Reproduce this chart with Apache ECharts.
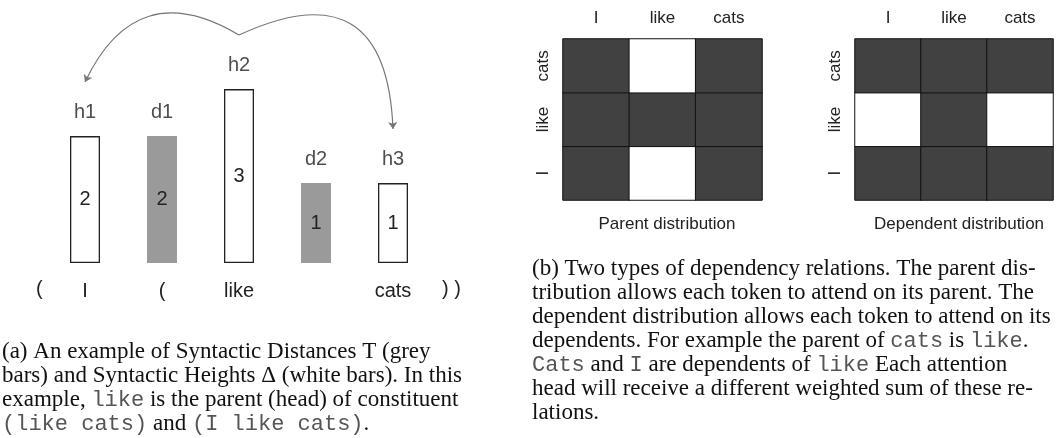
<!DOCTYPE html>
<html>
<head>
<meta charset="utf-8">
<script src="https://cdn.jsdelivr.net/npm/echarts@6/dist/echarts.min.js"></script>
<style>
  html, body { margin: 0; padding: 0; background: #fff; }
  #chart { width: 1063px; height: 438px; }
</style>
</head>
<body>
<div id="chart"></div>
<script>
// panel (a): syntactic distances / heights
const barTokens = ['I', '(', 'like', '', 'cats'];
const barNames = ['h1', 'd1', 'h2', 'd2', 'h3'];
const barValues = [2, 2, 3, 1, 1];
const barKinds = ['height', 'distance', 'height', 'distance', 'height'];
// head -> dependent (indices into barNames)
const arcs = [[2, 0], [2, 4]];

// panel (b): attention patterns, rows bottom->top = I, like, cats
const tokens = ['I', 'like', 'cats'];
const parentRows = [
  [0, 1, 0],
  [0, 0, 0],
  [0, 1, 0]
];
const dependentRows = [
  [0, 0, 0],
  [1, 0, 1],
  [0, 0, 0]
];

const captionA = [
  '(a) An example of Syntactic Distances T (grey',
  'bars) and Syntactic Heights Δ (white bars). In this',
  'example, {m|like} is the parent (head) of constituent',
  '{m|(like cats)} and {m|(I like cats)}.'
];
const captionB = [
  '(b) Two types of dependency relations. The parent dis-',
  'tribution allows each token to attend on its parent. The',
  'dependent distribution allows each token to attend on its',
  'dependents. For example the parent of {m|cats} is {m|like}.',
  '{m|Cats} and {m|I} are dependents of {m|like} Each attention',
  'head will receive a different weighted sum of these re-',
  'lations.'
];

function toCells(rows) {
  const res = [];
  for (let y = 0; y < rows.length; y++) {
    for (let x = 0; x < rows[y].length; x++) {
      res.push([x, y, rows[y][x]]);
    }
  }
  return res;
}

const sans = "'Liberation Sans', Arial, sans-serif";
const serif = "'Liberation Serif', 'Times New Roman', serif";
const mono = "'Liberation Mono', 'Courier New', monospace";
const labelOffset = 1.15; // arc ends sit above the h-labels

const chart = echarts.init(document.getElementById('chart'), null, { renderer: 'canvas' });

const captionStyle = {
  fontFamily: serif,
  fontSize: 23,
  lineHeight: 24,
  color: '#111',
  fontWeight: 'normal',
  rich: {
    m: { fontFamily: mono, fontSize: 22, color: '#555', lineHeight: 24 }
  }
};

const heatAxes = function (gridIndex) {
  return {
    x: {
      type: 'category',
      gridIndex: gridIndex,
      position: 'top',
      data: tokens,
      axisLine: { show: false },
      axisTick: { show: false },
      axisLabel: { color: '#222', fontFamily: sans, fontSize: 17, margin: 12 }
    },
    y: {
      type: 'category',
      gridIndex: gridIndex,
      data: tokens,
      axisLine: { show: false },
      axisTick: { show: false },
      axisLabel: { color: '#222', fontFamily: sans, fontSize: 17, rotate: 90, margin: 11 }
    }
  };
};
const h1 = heatAxes(1), h2 = heatAxes(2);

const option = {
  animation: false,
  backgroundColor: '#fff',
  title: [
    { text: 'Parent distribution', left: 662, top: 211, textAlign: 'center',
      textStyle: { fontFamily: sans, fontSize: 17, fontWeight: 'normal', color: '#222' } },
    { text: 'Dependent distribution', left: 954, top: 211, textAlign: 'center',
      textStyle: { fontFamily: sans, fontSize: 17, fontWeight: 'normal', color: '#222' } },
    { text: captionA.join('\n'), left: 2, top: 340, padding: 0, textStyle: captionStyle },
    { text: captionB.join('\n'), left: 532, top: 257, padding: 0, textStyle: captionStyle }
  ],
  grid: [
    { left: 46.5, top: 4.5, width: 385, height: 258.5 },
    { left: 563, top: 39, width: 199, height: 161 },
    { left: 855, top: 39, width: 198, height: 161 }
  ],
  xAxis: [
    {
      type: 'category',
      gridIndex: 0,
      data: barTokens,
      axisLine: { show: false },
      axisTick: { show: false },
      axisLabel: { color: '#222', fontFamily: sans, fontSize: 20, margin: 18, interval: 0 }
    },
    h1.x, h2.x
  ],
  yAxis: [
    {
      type: 'value',
      gridIndex: 0,
      min: -0.7,
      max: 4.8,
      startValue: -0.7,
      show: false,
      splitLine: { show: false }
    },
    h1.y, h2.y
  ],
  visualMap: {
    type: 'piecewise',
    show: false,
    seriesIndex: [3, 4],
    pieces: [
      { value: 0, color: '#414141' },
      { value: 1, color: '#ffffff' }
    ]
  },
  graphic: [
    { type: 'text', left: 36, top: 279, style: { text: '(', font: '20px ' + sans, fill: '#222' } },
    { type: 'text', left: 442, top: 279, style: { text: ') )', font: '20px ' + sans, fill: '#222' } }
  ],
  series: [
    {
      type: 'bar',
      xAxisIndex: 0,
      yAxisIndex: 0,
      barWidth: 30,
      data: barValues.map(function (v, i) {
        const grey = barKinds[i] === 'distance';
        return {
          value: v,
          itemStyle: grey
            ? { color: '#9a9a9a', borderColor: '#9a9a9a', borderWidth: 0 }
            : { color: '#fff', borderColor: '#222', borderWidth: 1.3 }
        };
      }),
      label: {
        show: true,
        position: 'inside',
        color: '#222',
        fontFamily: sans,
        fontSize: 20
      }
    },
    {
      type: 'scatter',
      xAxisIndex: 0,
      yAxisIndex: 0,
      symbolSize: 0,
      data: barValues.map(function (v, i) { return { value: [i, v], name: barNames[i] }; }),
      label: {
        show: true,
        position: 'top',
        distance: 14,
        formatter: '{b}',
        color: '#222',
        fontFamily: sans,
        fontSize: 20
      }
    },
    {
      type: 'lines',
      coordinateSystem: 'cartesian2d',
      xAxisIndex: 0,
      yAxisIndex: 0,
      symbol: ['none', 'arrow'],
      symbolSize: 7,
      lineStyle: { color: '#777', width: 1.2, opacity: 1 },
      data: arcs.map(function (a) {
        const left = a[1] < a[0];
        return {
          coords: [
            [a[0], barValues[a[0]] + labelOffset],
            [a[1], barValues[a[1]] + labelOffset]
          ],
          lineStyle: { curveness: left ? -0.55 : 0.75 }
        };
      })
    },
    {
      type: 'heatmap',
      xAxisIndex: 1,
      yAxisIndex: 1,
      data: toCells(parentRows),
      itemStyle: { borderColor: '#111', borderWidth: 1 }
    },
    {
      type: 'heatmap',
      xAxisIndex: 2,
      yAxisIndex: 2,
      data: toCells(dependentRows),
      itemStyle: { borderColor: '#111', borderWidth: 1 }
    }
  ]
};

chart.setOption(option);
</script>
</body>
</html>
